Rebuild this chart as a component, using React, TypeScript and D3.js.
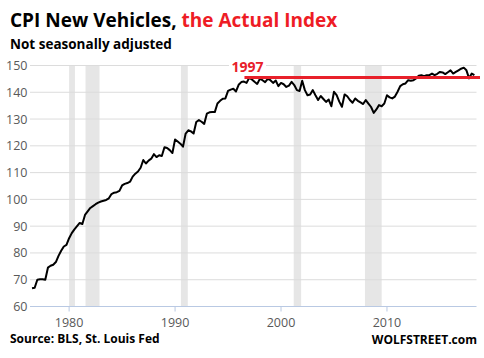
import React from 'react';
import * as d3 from 'd3';

// quarterly index values (NSA), first value is 1976 Q3
const startYear = 1976.5;
const cpi1970s = [66.8, 67.0, 70.0, 70.2, 70.2, 70.0, 74.5, 75.2, 75.6, 76.6, 78.9, 80.8, 82.4, 83.0];
const cpi1980s = [
  85.5, 87.4, 88.8, 90.0, 91.2, 90.8, 94.2, 95.5, 96.8, 97.5, 98.2, 98.8, 99.2, 99.5, 99.8, 100.4,
  102.0, 102.5, 102.7, 103.2, 105.2, 105.8, 106.1, 106.6, 108.5, 109.6, 110.4, 111.8, 114.7, 113.4, 114.5, 115.2,
  116.9, 115.8, 116.5, 116.2, 119.5, 119.2, 118.4, 117.3,
];
const cpi1990s = [
  122.4, 121.6, 120.8, 119.7, 124.6, 125.8, 125.4, 124.6, 128.9, 129.6, 129.0, 128.2, 132.0, 132.5, 132.6, 132.6,
  135.8, 136.8, 137.6, 137.7, 140.5, 141.0, 141.3, 140.3, 142.8, 143.8, 144.0, 143.5, 145.4, 144.8, 143.9, 143.1,
  145.0, 144.5, 143.8, 145.0, 144.5, 143.5, 144.4, 142.3,
];
const cpi2000s = [
  143.5, 143.0, 142.0, 142.5, 143.9, 142.7, 140.8, 140.5, 144.3, 140.8, 138.9, 139.2, 140.8, 138.9, 137.1, 138.6,
  137.5, 136.4, 137.3, 134.8, 140.2, 138.9, 136.5, 134.6, 139.2, 138.5, 137.1, 136.1, 137.7, 136.8, 136.2, 135.6,
  137.1, 135.8, 134.5, 132.3, 133.6, 135.2, 134.8, 135.8,
];
const cpi2010s = [
  138.9, 138.1, 137.7, 138.4, 140.2, 142.3, 143.0, 143.3, 144.5, 144.3, 144.5, 145.2, 146.2, 146.4, 146.0, 146.4,
  146.4, 147.0, 146.4, 146.9, 147.6, 147.4, 146.8, 147.5, 148.2, 147.0, 147.6, 148.2, 148.8, 149.2, 148.2, 145.2,
  147.0, 146.4,
];

const recessions = [
  [1980.0, 1980.55],
  [1981.55, 1982.87],
  [1990.55, 1991.2],
  [2001.2, 2001.9],
  [2007.92, 2009.5],
];
const yTicks = [60, 70, 80, 90, 100, 110, 120, 130, 140, 150];
const xTicks = [1980, 1990, 2000, 2010];
const refYear = 1996.55;
const refValue = 145.5;

const W = 484;
const H = 358;

export default function App() {
  const values = [...cpi1970s, ...cpi1980s, ...cpi1990s, ...cpi2000s, ...cpi2010s];
  const data = values.map((v, i) => ({ t: startYear + i * 0.25, v }));

  const x = d3.scaleLinear().domain([1976.45, 2018.45]).range([31.5, 476.5]);
  const y = d3.scaleLinear().domain([60, 150]).range([306.5, 65.5]);

  const line = d3
    .line<{ t: number; v: number }>()
    .x((d) => x(d.t))
    .y((d) => y(d.v));

  const tickFont = '"Open Sans", "Noto Sans", sans-serif';
  const boldFont = '"Open Sans", "Noto Sans", sans-serif';

  return (
    <svg width={W} height={H} style={{ position: 'absolute', left: 0, top: 0, background: '#fff' }}>
      <rect width={W} height={H} fill="#fff" />

      {/* recession bands */}
      {recessions.map(([a, b], i) => (
        <rect key={i} x={x(a)} y={y(150)} width={x(b) - x(a)} height={y(60) - y(150)} fill="#e6e6e6" />
      ))}

      {/* gridlines */}
      {yTicks.slice(1).map((t) => (
        <line key={t} x1={30} x2={476.5} y1={y(t)} y2={y(t)} stroke="#dcdcdc" strokeWidth={1} />
      ))}

      {/* x axis */}
      <line x1={30} x2={476.5} y1={y(60)} y2={y(60)} stroke="#b9c9e3" strokeWidth={1} />
      {xTicks.map((t) => (
        <g key={t}>
          <line x1={x(t)} x2={x(t)} y1={y(60)} y2={y(60) + 5} stroke="#b9c9e3" />
          <text x={x(t)} y={y(60) + 20} textAnchor="middle" fontSize={12.5} fill="#595959" fontFamily={tickFont}>
            {t}
          </text>
        </g>
      ))}

      {/* y labels */}
      {yTicks.map((t) => (
        <text key={t} x={27.5} y={y(t) + 4.5} textAnchor="end" fontSize={12.5} fill="#595959" fontFamily={tickFont}>
          {t}
        </text>
      ))}

      {/* 1997 reference */}
      <rect x={229} y={55} width={37} height={18} fill="#fff" />
      <text x={247.5} y={71.5} textAnchor="middle" fontSize={14} fontWeight="bold" fill="#e8202a" fontFamily={boldFont}>
        1997
      </text>

      <path d={line(data) ?? ''} fill="none" stroke="#000" strokeWidth={2} strokeLinejoin="round" />

      <line x1={x(refYear)} x2={480} y1={y(refValue)} y2={y(refValue)} stroke="#e8202a" strokeWidth={3} />

      {/* titles */}
      <text x={10} y={27} fontSize={19} fontWeight="bold" fontFamily={boldFont} fill="#000">
        CPI New Vehicles, <tspan fill="#ee1c25">the Actual Index</tspan>
      </text>
      <text x={10} y={49} fontSize={13.5} fontWeight="bold" fontFamily={boldFont} fill="#000">
        Not seasonally adjusted
      </text>

      <text x={10} y={343} fontSize={12} fontWeight="bold" fontFamily={boldFont} fill="#000">
        Source: BLS, St. Louis Fed
      </text>
      <text x={477} y={344} textAnchor="end" fontSize={12} fontWeight="bold" fontFamily={boldFont} fill="#000">
        WOLFSTREET.com
      </text>
    </svg>
  );
}
